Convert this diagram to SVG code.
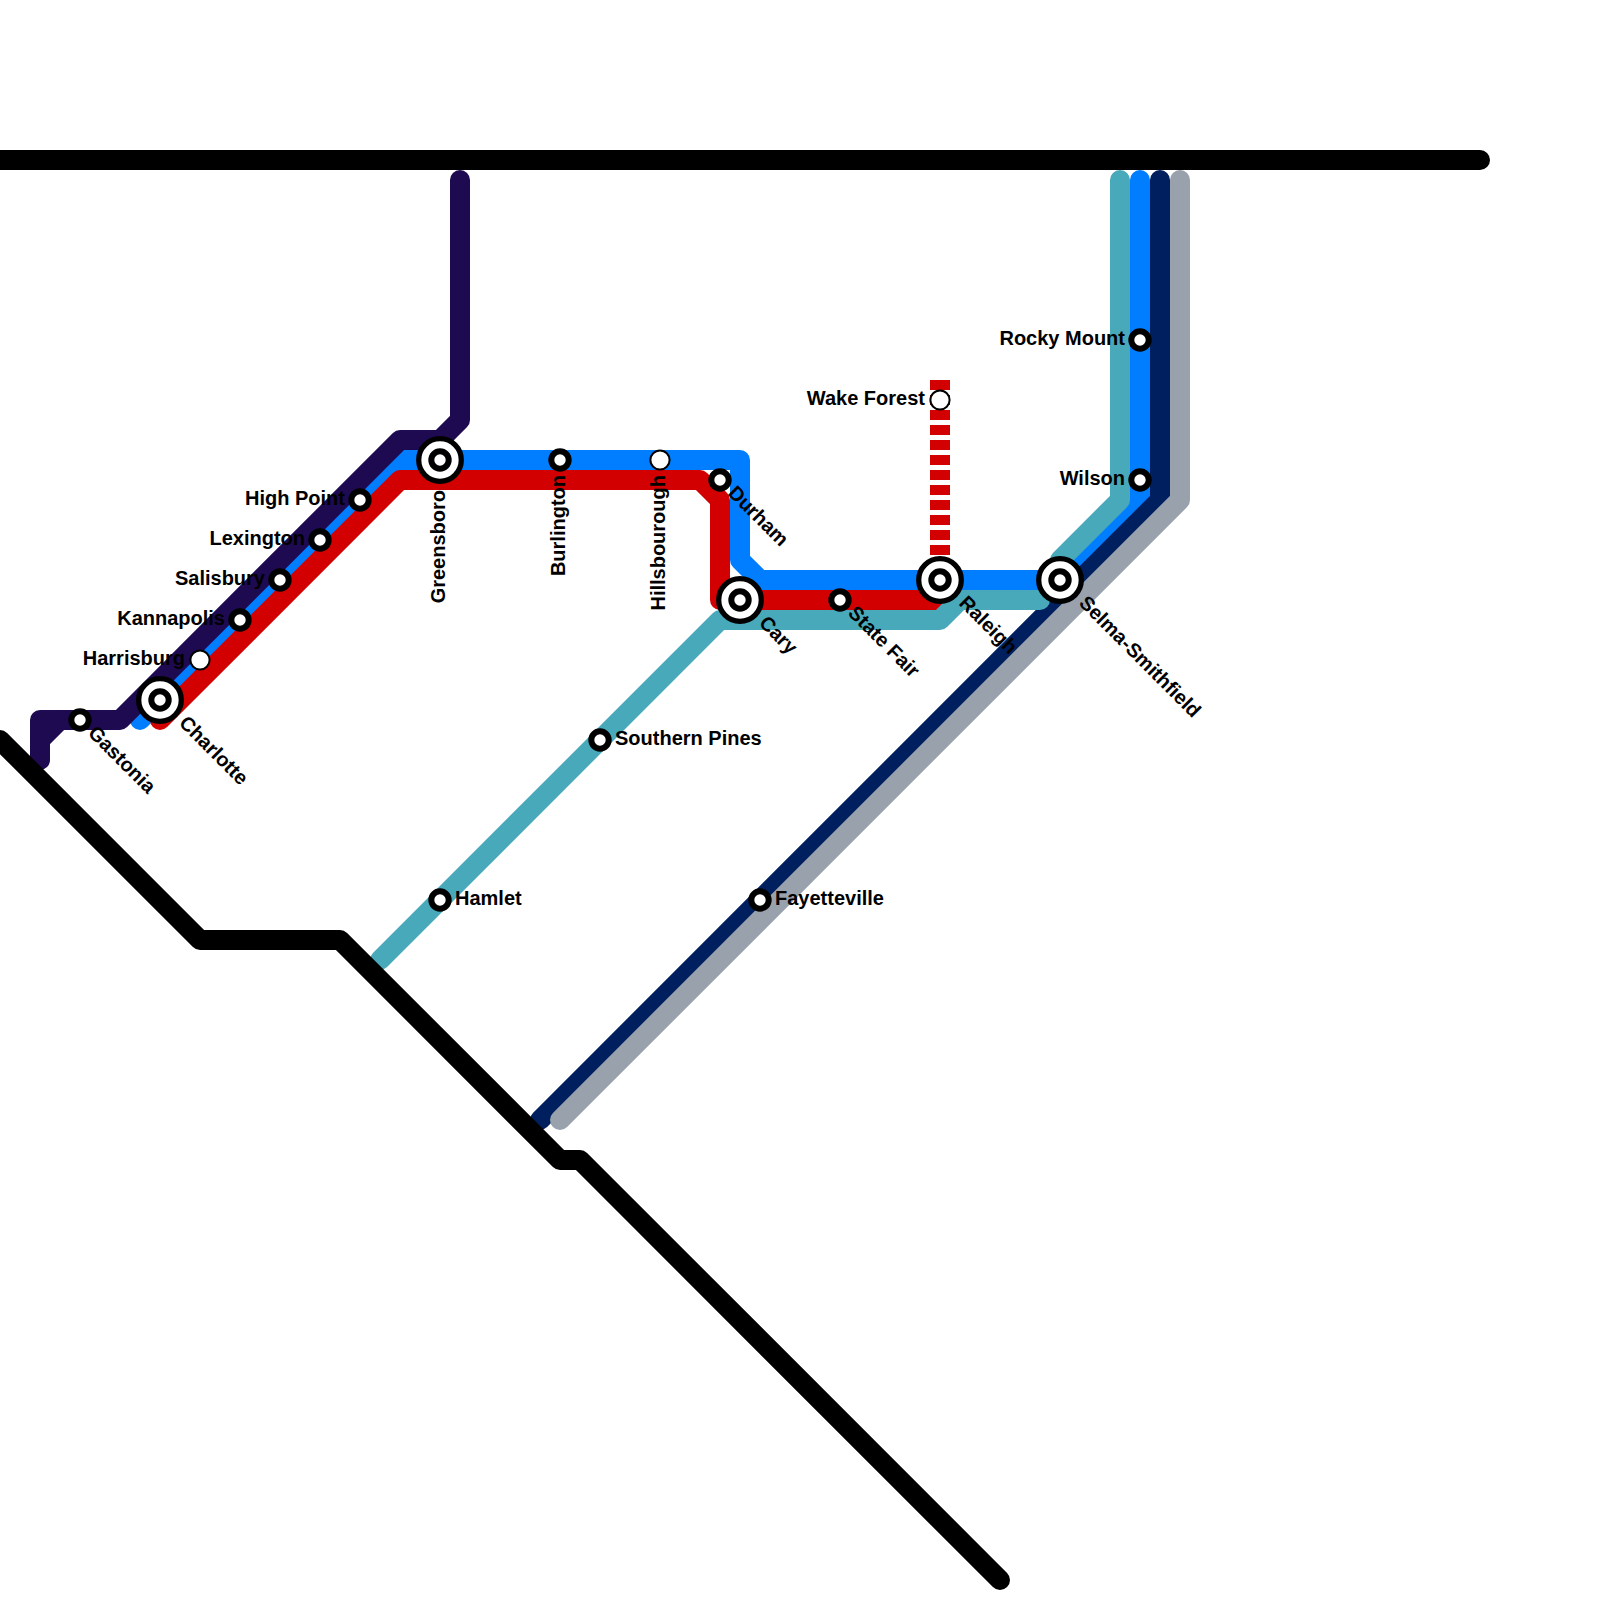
<svg xmlns="http://www.w3.org/2000/svg" width="1600" height="1600" viewBox="0 0 1600 1600">
<style>
.l{fill:none;stroke-width:20;stroke-linecap:round;stroke-linejoin:round}
.k{stroke:#000}.p{stroke:#1E0A50}.b{stroke:#007EFF}.r{stroke:#D20000}.t{stroke:#48A9BB}.n{stroke:#001F5F}.g{stroke:#99A1AD}
.dash{stroke-linecap:butt;stroke-dasharray:10 5}
.o{fill:#fff;stroke:#000;stroke-width:5.3}
.i{fill:#fff;stroke:#000;stroke-width:6}
.e{fill:#fff;stroke:#000;stroke-width:2}
text{font-family:"Liberation Sans",Arial,sans-serif;font-weight:bold;font-size:20px;fill:#000}
.end{text-anchor:end}
</style>
<defs>
<g id="ic"><circle class="o" r="21.3"/><circle class="i" r="8.7"/></g>
</defs>
<g id="connectors">
<path class="l b" d="M140 720L400 460H740V560L760 580H1060L1140 500V180"/>
<path class="l n" d="M540 1120L1160 500V180"/>
<path class="l g" d="M560 1120L1180 500V180"/>
<path class="l r" d="M160 720L400 480H700L720 500V600H940"/>
<path class="l r dash" d="M940 380V580"/>
<path class="l t" d="M380 960L720 620H940L960 600H1040"/>
<path class="l t" d="M1060 560L1120 500V180"/>
<path class="l p" d="M40 760V720H120L400 440H440L460 420V180"/>
<path class="l p" d="M40 740L60 720"/>
<path class="l k" d="M0 160H1480"/>
<path class="l k" d="M0 740L200 940H340L560 1160H580L1000 1580"/>
</g>
<g id="gastonia"><circle class="i" cx="80" cy="720" r="8.7"/><text transform="translate(87 734) rotate(45)">Gastonia</text></g>
<g id="charlotte"><use href="#ic" x="160" y="700"/><text transform="translate(178 724) rotate(45)">Charlotte</text></g>
<g id="harrisburg"><circle class="e" cx="200" cy="660" r="9.6"/><text class="end" x="185" y="665">Harrisburg</text></g>
<g id="kannapolis"><circle class="i" cx="240" cy="620" r="8.7"/><text class="end" x="225" y="625">Kannapolis</text></g>
<g id="salisbury"><circle class="i" cx="280" cy="580" r="8.7"/><text class="end" x="265" y="585">Salisbury</text></g>
<g id="lexington"><circle class="i" cx="320" cy="540" r="8.7"/><text class="end" x="305" y="545">Lexington</text></g>
<g id="high-point"><circle class="i" cx="360" cy="500" r="8.7"/><text class="end" x="345" y="505">High Point</text></g>
<g id="greensboro"><use href="#ic" x="440" y="460"/><text class="end" transform="translate(445 490) rotate(-90)">Greensboro</text></g>
<g id="burlington"><circle class="i" cx="560" cy="460" r="8.7"/><text class="end" transform="translate(565 475) rotate(-90)">Burlington</text></g>
<g id="hillsborough"><circle class="e" cx="660" cy="460" r="9.6"/><text class="end" transform="translate(665 475) rotate(-90)">Hillsbourough</text></g>
<g id="durham"><circle class="i" cx="720" cy="480" r="8.7"/><text transform="translate(727 494) rotate(45)">Durham</text></g>
<g id="cary"><use href="#ic" x="740" y="600"/><text transform="translate(758 624) rotate(45)">Cary</text></g>
<g id="state-fair"><circle class="i" cx="840" cy="600" r="8.7"/><text transform="translate(847 614) rotate(45)">State Fair</text></g>
<g id="raleigh"><use href="#ic" x="940" y="580"/><text transform="translate(958 604) rotate(45)">Raleigh</text></g>
<g id="wake-forest"><circle class="e" cx="940" cy="400" r="9.6"/><text class="end" x="925" y="405">Wake Forest</text></g>
<g id="selma"><use href="#ic" x="1060" y="580"/><text transform="translate(1078 604) rotate(45)">Selma-Smithfield</text></g>
<g id="wilson"><circle class="i" cx="1140" cy="480" r="8.7"/><text class="end" x="1125" y="485">Wilson</text></g>
<g id="rocky-mount"><circle class="i" cx="1140" cy="340" r="8.7"/><text class="end" x="1125" y="345">Rocky Mount</text></g>
<g id="southern-pines"><circle class="i" cx="600" cy="740" r="8.7"/><text x="615" y="745">Southern Pines</text></g>
<g id="hamlet"><circle class="i" cx="440" cy="900" r="8.7"/><text x="455" y="905">Hamlet</text></g>
<g id="fayetteville"><circle class="i" cx="760" cy="900" r="8.7"/><text x="775" y="905">Fayetteville</text></g>
</svg>
